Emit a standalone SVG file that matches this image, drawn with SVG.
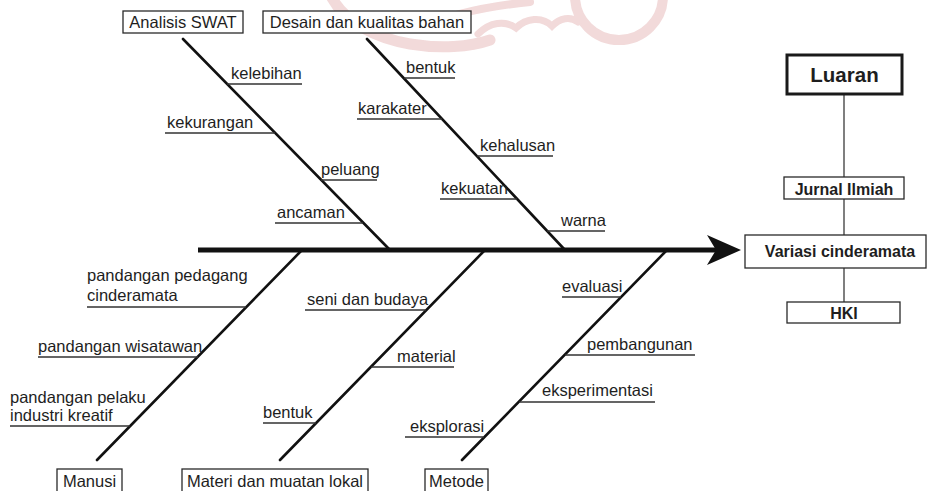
<svg xmlns="http://www.w3.org/2000/svg" width="928" height="491" viewBox="0 0 928 491">
<style>
  text { font-family: "Liberation Sans", Arial, sans-serif; fill: #1e1e1e; }
  .t { font-size: 16.5px; }
  .c { text-anchor: middle; }
  .b { font-weight: bold; }
  .box { fill: #fff; stroke: #2a2a2a; stroke-width: 1.3; }
  .bone { stroke: #111; stroke-width: 2.6; fill: none; stroke-linecap: round; }
  .sub { stroke: #333; stroke-width: 1.6; fill: none; }
  .link { stroke: #555; stroke-width: 1.5; fill: none; }
  .wm { stroke: #f1d6d6; fill: none; stroke-linecap: round; }
</style>
<rect width="928" height="491" fill="#fff"/>
<g id="watermark" opacity="0.9">
  <path class="wm" stroke-width="10" d="M575 -4 A44 44 0 0 0 663 -4"/>
  <path class="wm" stroke-width="11" d="M332 -2 C345 22 375 38 410 44 C440 49 470 47 490 40"/>
  <path class="wm" stroke-width="8" d="M420 28 C450 14 490 6 530 2"/>
  <path class="wm" stroke-width="7" d="M478 34 C490 22 505 20 516 28 C526 18 542 16 552 26 C560 18 570 16 578 22"/>
</g>
<g id="connectors">
  <line x1="198" y1="250" x2="718" y2="250" stroke="#111" stroke-width="5"/>
  <polygon points="741,250 707,235 716,250 707,265" fill="#111"/>
  <line class="bone" x1="183" y1="39" x2="390" y2="250"/>
  <line class="bone" x1="367" y1="39" x2="565" y2="250"/>
  <line class="bone" x1="302" y1="250" x2="97" y2="460"/>
  <line class="bone" x1="485" y1="250" x2="280" y2="460"/>
  <line class="bone" x1="667" y1="250" x2="462" y2="460"/>
  <line class="link" x1="844" y1="95" x2="844" y2="177"/>
  <line class="link" x1="844" y1="199" x2="844" y2="235"/>
  <line class="link" x1="844" y1="268" x2="844" y2="302"/>
  <path class="sub" d="M227 84H302 M165 133H275 M321 180H377 M275 223H363"/>
  <path class="sub" d="M404 78H455 M357 119H442 M477 156H553 M440 199H517 M547 231H605"/>
  <path class="sub" d="M87 307H246 M38 357H198 M10 426H130"/>
  <path class="sub" d="M305 310H426 M371 367H454 M263 423H316"/>
  <path class="sub" d="M562 297H621 M565 355H695 M519 402H655 M405 437H484"/>
</g>
<g id="analisis-swat">
  <rect class="box" x="123" y="11" width="120" height="22"/>
  <text class="t c" x="183" y="28">Analisis SWAT</text>
  <text class="t" x="231" y="79">kelebihan</text>
  <text class="t" x="167" y="128">kekurangan</text>
  <text class="t" x="321" y="175">peluang</text>
  <text class="t" x="277" y="218">ancaman</text>
</g>
<g id="desain">
  <rect class="box" x="263" y="11" width="208" height="22"/>
  <text class="t c" x="367" y="28">Desain dan kualitas bahan</text>
  <text class="t" x="406" y="73">bentuk</text>
  <text class="t" x="358" y="114">karakater</text>
  <text class="t" x="480" y="151">kehalusan</text>
  <text class="t" x="441" y="194">kekuatan</text>
  <text class="t" x="561" y="226">warna</text>
</g>
<g id="manusi">
  <rect class="box" x="57" y="469" width="65" height="25"/>
  <text class="t c" x="89.5" y="487">Manusi</text>
  <text class="t" x="87" y="281">pandangan pedagang</text>
  <text class="t" x="87" y="301">cinderamata</text>
  <text class="t" x="38" y="352">pandangan wisatawan</text>
  <text class="t" x="10" y="403">pandangan pelaku</text>
  <text class="t" x="10" y="421">industri kreatif</text>
</g>
<g id="materi">
  <rect class="box" x="182" y="469" width="186" height="25"/>
  <text class="t c" x="275" y="487">Materi dan muatan lokal</text>
  <text class="t" x="307" y="305">seni dan budaya</text>
  <text class="t" x="397" y="362">material</text>
  <text class="t" x="263" y="418">bentuk</text>
</g>
<g id="metode">
  <rect class="box" x="425" y="469" width="63" height="25"/>
  <text class="t c" x="456.5" y="487">Metode</text>
  <text class="t" x="562" y="292">evaluasi</text>
  <text class="t" x="587" y="350">pembangunan</text>
  <text class="t" x="542" y="396">eksperimentasi</text>
  <text class="t" x="410" y="432">eksplorasi</text>
</g>
<g id="luaran">
  <rect x="787" y="55" width="115" height="39" fill="#fff" stroke="#1a1a1a" stroke-width="3"/>
  <text class="c b" x="844.5" y="82" font-size="20.5">Luaran</text>
</g>
<g id="jurnal">
  <rect class="box" x="784" y="177" width="120" height="22"/>
  <text class="c b" x="844" y="194.5" font-size="16">Jurnal Ilmiah</text>
</g>
<g id="variasi">
  <rect class="box" x="745" y="235" width="181" height="33"/>
  <text class="c b" x="840" y="257" font-size="16">Variasi cinderamata</text>
</g>
<g id="hki">
  <rect class="box" x="787" y="302" width="113" height="21"/>
  <text class="c b" x="844" y="319" font-size="16">HKI</text>
</g>
</svg>
